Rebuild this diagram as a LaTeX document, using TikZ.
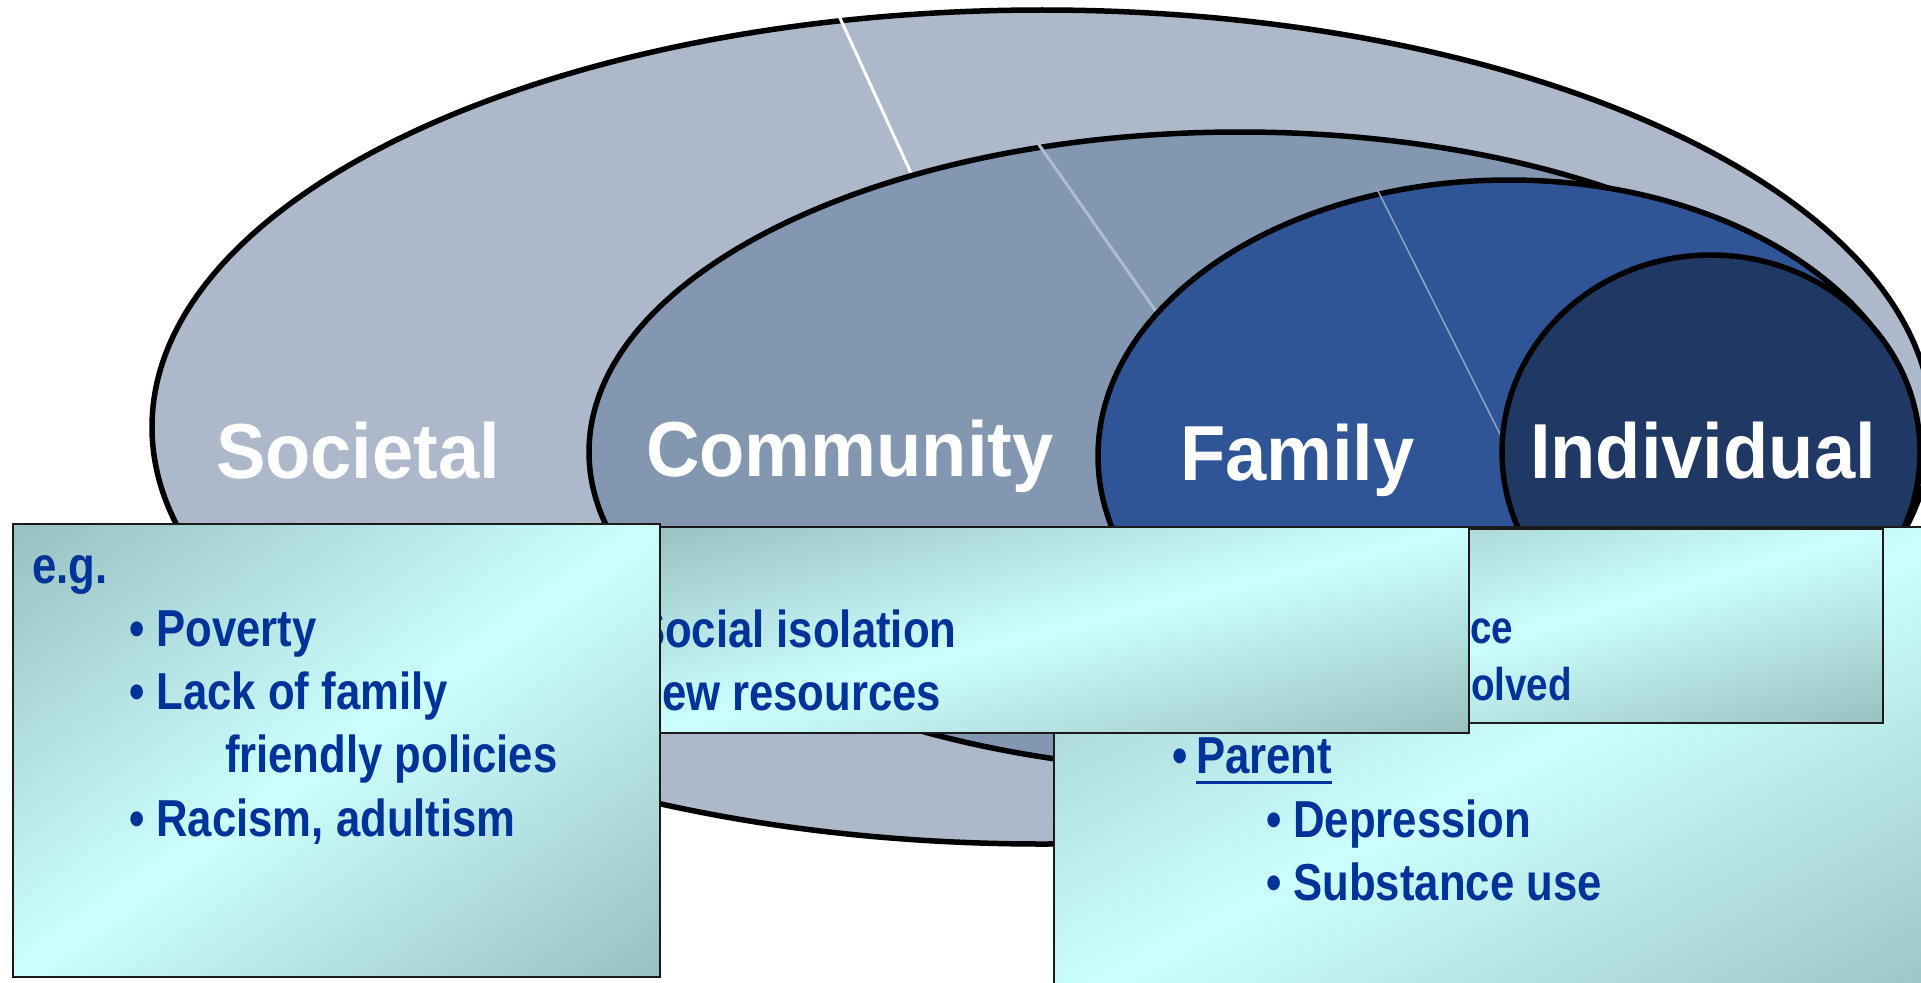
\documentclass[tikz,border=0pt]{standalone}
\usepackage{fontspec}
\setmainfont{Liberation Sans}
\newfontfamily\lblfont{Liberation Sans}[FakeStretch=0.95]
\newfontfamily\bxfont{Liberation Sans}[FakeStretch=0.84]
\definecolor{soc}{HTML}{ADB9CA}
\definecolor{com}{HTML}{8497B0}
\definecolor{fam}{HTML}{2F5597}
\definecolor{ind}{HTML}{203864}
\definecolor{txtblue}{HTML}{003399}
\definecolor{boxlight}{HTML}{CCFFFF}
\definecolor{boxdark}{HTML}{99C0C0}
\definecolor{boxline}{HTML}{1A1A1A}
\definecolor{gline}{HTML}{B0BBCD}
\definecolor{bline}{HTML}{8FA3C9}
% box with a diagonal (corner-to-corner) mirrored gradient
\newcommand\gradbox[4]{%
  \pgfmathsetmacro\gbw{(#3-#1)/2}%
  \pgfmathsetmacro\gbh{(#4-#2)/2}%
  \begin{scope}
    \clip (#1,#2) rectangle (#3,#4);
    \begin{scope}[transform canvas={cm={\gbw,-\gbh,\gbw,\gbh,(#1,#2)}}]
      \shade[left color=boxdark, right color=boxdark, middle color=boxlight]
        (0pt,-1pt) rectangle (2pt,1pt);
    \end{scope}
  \end{scope}
  \draw[boxline, line width=1.8pt] (#1,#2) rectangle (#3,#4);
}
\begin{document}
\begin{tikzpicture}[x=1pt,y=-1pt,
  ring/.style={draw=black, line width=5.5pt},
  lbl/.style={anchor=base west, inner sep=0pt, outer sep=0pt, text=white,
    font=\lblfont\bfseries\fontsize{78}{80}\selectfont},
  bt/.style={anchor=base west, inner sep=0pt, outer sep=0pt, text=txtblue,
    font=\bxfont\bfseries\fontsize{52}{63}\selectfont},
  btc/.style={bt, font=\bxfont\bfseries\fontsize{46}{56}\selectfont},
]
\useasboundingbox (0,0) rectangle (1921,982);
\clip (0,0) rectangle (1921,982);

% rings
\path[ring, fill=soc] (1042,427) ellipse [x radius=890pt, y radius=417pt];
\coordinate (w1) at (834,5);
\coordinate (w2) at (916,184);
\draw[white, line width=3pt] (w1) -- (w2);
\path[ring, fill=com] (1240,452) ellipse [x radius=651pt, y radius=320pt];
\coordinate (g1) at (1037,142);
\coordinate (g2) at (1162,320);
\draw[gline, line width=3pt] (g1) -- (g2);
\path[ring, fill=fam] (1509,456) ellipse [x radius=411pt, y radius=276pt];
\coordinate (b1) at (1375,185);
\coordinate (b2) at (1508,450);
\draw[bline, line width=1.5pt] (b1) -- (b2);
\path[ring, fill=ind] (1711,452) ellipse [x radius=209pt, y radius=197pt];

% ring labels
\node[lbl] (societal) at (216,478) {Societal};
\node[lbl] (community) at (646,476) {Community};
\node[lbl] (family) at (1180,480) {Family};
\node[lbl] (individual) at (1530,478) {Individual};

% box D (family / individual, lower)
\gradbox{1054}{527}{1960}{1010}
\node[bt] (dbul1) at (1172,773) {•};
\node[bt] (parent) at (1196,773) {Parent};
\draw[txtblue, line width=3pt] ([yshift=-9pt]parent.base west) -- ([yshift=-9pt]parent.base east);
\node[bt] (depr) at (1266,837) {• Depression};
\node[bt] (subst) at (1266,900) {• Substance use};

% box C
\gradbox{1200}{529}{1883}{723}
\node[btc] (cce) at (1470,643) {ce};
\node[btc] (colved) at (1471,700) {olved};

% box B (community)
\gradbox{640}{527}{1469}{733}
\node[bt] (social) at (636,647) {Social isolation};
\node[bt] (fewres) at (662,710) {ew resources};

% box A (societal)
\gradbox{13}{524}{660}{977}
\node[bt] (eg) at (32,583) {e.g.};
\node[bt] (poverty) at (129,646) {• Poverty};
\node[bt] (lack) at (129,709) {• Lack of family};
\node[bt] (friendly) at (225,772) {friendly policies};
\node[bt] (racism) at (129,836) {• Racism, adultism};
\end{tikzpicture}
\end{document}
